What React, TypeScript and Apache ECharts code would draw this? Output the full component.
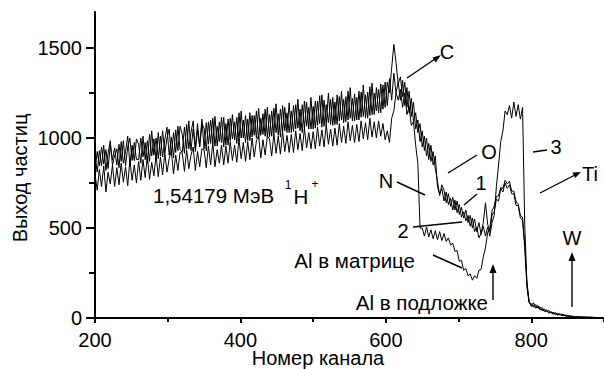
import React, { useEffect, useRef } from "react";
import * as echarts from "echarts";

// Channel numbering of the spectra (every 3rd channel from 200)
const channelStart = 200;
const channelStep = 3;

// Spectrum 1
const curve1 = [
  905, 810, 930, 845, 960, 820, 915, 985, 850, 900,
  940, 835, 980, 860, 925, 1010, 850, 960, 875, 995,
  965, 860, 1010, 880, 985, 870, 1040, 905, 1000, 885,
  1010, 895, 990, 1060, 905, 1005, 890, 1045, 930, 1065,
  1020, 915, 1075, 940, 1030, 1095, 925, 1045, 950, 1080,
  1055, 930, 1090, 970, 1110, 955, 1065, 980, 1115, 950,
  1080, 960, 1110, 995, 1090, 970, 1140, 1000, 1100, 975,
  1105, 985, 1125, 1015, 1150, 995, 1110, 1020, 1160, 1005,
  1130, 1010, 1165, 1030, 1135, 1005, 1180, 1040, 1140, 1030,
  1150, 1035, 1185, 1055, 1160, 1030, 1205, 1065, 1170, 1050,
  1175, 1055, 1205, 1080, 1240, 1065, 1185, 1085, 1215, 1070,
  1200, 1075, 1230, 1100, 1215, 1090, 1260, 1110, 1220, 1095,
  1225, 1100, 1255, 1120, 1240, 1110, 1285, 1130, 1250, 1150,
  1270, 1140, 1295, 1170, 1310, 1250, 1390, 1520, 1420, 1300,
  1340, 1230, 1310, 1170, 1260, 1120, 1200, 1050, 1100, 980,
  1040, 930, 1000, 880, 960, 850, 900, 730, 690, 720,
  650, 700, 630, 665, 600, 655, 585, 630, 560, 590,
  540, 570, 510, 555, 480, 505, 445, 470, 530, 640,
  520, 480, 570, 590, 660, 650, 720, 700, 750, 720,
  740, 690, 690, 625, 625, 555, 545, 390, 170, 85,
  80, 60, 75, 55, 62, 40, 50, 35, 42, 28,
  32, 20, 26, 18, 22, 12, 16, 10, 12, 7,
  8, 5, 7, 4, 6, 3, 5, 3, 4, 3,
];

// Spectrum 2
const curve2 = [
  800, 710, 825, 730, 845, 700, 810, 745, 850, 730,
  835, 740, 860, 755, 840, 735, 880, 765, 850, 750,
  870, 765, 880, 780, 900, 770, 865, 790, 905, 785,
  895, 795, 915, 810, 885, 930, 800, 905, 820, 920,
  915, 815, 935, 830, 905, 950, 820, 925, 840, 940,
  935, 835, 955, 850, 975, 840, 935, 860, 960, 850,
  955, 860, 980, 875, 960, 865, 995, 885, 975, 870,
  980, 880, 1000, 895, 985, 1015, 890, 990, 905, 1010,
  995, 900, 1025, 915, 1010, 910, 1035, 925, 1015, 920,
  1020, 920, 1040, 935, 1025, 930, 1055, 945, 1030, 940,
  1035, 940, 1060, 955, 1045, 950, 1075, 965, 1050, 955,
  1055, 960, 1080, 975, 1065, 970, 1090, 985, 1070, 975,
  1075, 980, 1095, 995, 1085, 990, 1110, 1005, 1090, 1000,
  1095, 1010, 1080, 990, 1040, 975, 1110, 1150, 1250, 1210,
  1270, 1170, 1250, 1130, 1175, 1070, 1090, 960, 860, 500,
  500, 455, 505, 450, 490, 440, 485, 435, 480, 430,
  470, 425, 445, 405, 415, 370, 375, 315, 320, 265,
  275, 235, 245, 210, 235, 220, 265, 270, 340, 390,
  475, 500, 595, 620, 675, 680, 725, 720, 765, 745,
  760, 705, 705, 645, 635, 570, 560, 410, 200, 90,
  65, 72, 55, 62, 45, 50, 36, 40, 28, 31,
  22, 25, 17, 20, 13, 15, 10, 11, 8, 9,
  5, 7, 4, 6, 4, 5, 3, 4, 3, 3,
];

// Spectrum 3
const curve3 = [
  820, 925, 845, 950, 855, 935, 830, 960, 880, 945,
  850, 965, 870, 985, 845, 950, 1000, 875, 975, 880,
  880, 1000, 895, 975, 860, 1020, 900, 995, 880, 1030,
  900, 1040, 915, 1000, 1050, 905, 1030, 920, 1065, 935,
  920, 1060, 940, 1095, 930, 1050, 945, 1080, 955, 1105,
  940, 1085, 965, 1100, 970, 1120, 955, 1090, 975, 1115,
  960, 1105, 985, 1130, 990, 1115, 985, 1150, 1000, 1125,
  985, 1140, 1005, 1125, 1000, 1165, 1015, 1135, 1010, 1170,
  1005, 1150, 1025, 1190, 1015, 1160, 1035, 1170, 1030, 1195,
  1030, 1180, 1050, 1215, 1040, 1185, 1055, 1200, 1050, 1225,
  1050, 1205, 1070, 1235, 1060, 1210, 1075, 1250, 1075, 1225,
  1075, 1240, 1095, 1260, 1085, 1230, 1100, 1280, 1095, 1245,
  1100, 1260, 1115, 1295, 1110, 1255, 1125, 1305, 1130, 1280,
  1140, 1300, 1160, 1310, 1180, 1330, 1210, 1360, 1250, 1310,
  1210, 1320, 1180, 1280, 1140, 1220, 1090, 1140, 1030, 1080,
  950, 1010, 900, 970, 870, 925, 830, 760, 680, 740,
  710, 640, 690, 620, 670, 600, 650, 575, 615, 555,
  600, 530, 570, 500, 550, 480, 530, 465, 510, 455,
  505, 455, 530, 570, 730, 850, 980, 1040, 1150, 1130,
  1180, 1110, 1200, 1120, 1185, 1105, 1170, 520, 190, 90,
  70, 85, 58, 70, 48, 58, 38, 46, 30, 36,
  24, 30, 18, 24, 15, 19, 11, 14, 8, 10,
  6, 9, 5, 7, 4, 6, 3, 5, 3, 4,
];

const xMin = 200;
const xMax = 900;
const xMajorStep = 200;
const xMinorStep = 100;
const yMin = 0;
const yMax = 1700;
const yMajorStep = 500;
const yMinorStep = 250;

const FONT = '"Liberation Sans", Arial, sans-serif';

const toPairs = (vals: number[]) =>
  vals.map((v, i) => [channelStart + i * channelStep, v]);

const txt = (text: string, x: number, y: number, size = 20, align = "center") => ({
  type: "text",
  x,
  y,
  silent: true,
  style: {
    text,
    fill: "#000",
    fontSize: size,
    fontFamily: FONT,
    align,
    textAlign: align,
    verticalAlign: "middle",
    textVerticalAlign: "middle",
  },
});

const seg = (x1: number, y1: number, x2: number, y2: number) => ({
  type: "line",
  silent: true,
  shape: { x1, y1, x2, y2 },
  style: { stroke: "#000", lineWidth: 1.4 },
});

const head = (pts: number[][]) => ({
  type: "polygon",
  silent: true,
  shape: { points: pts },
  style: { fill: "#000" },
});

export default function App() {
  const ref = useRef<HTMLDivElement>(null);

  useEffect(() => {
    if (!ref.current) return;
    const chart = echarts.init(ref.current, undefined, { renderer: "svg" });

    const axisLabelStyle = {
      color: "#000",
      fontSize: 20,
      fontFamily: FONT,
      formatter: (v: number) => String(v),
    };
    const tickLine = { color: "#000", width: 2 };

    const lineSeries = (name: string, vals: number[]) => ({
      name,
      type: "line",
      data: toPairs(vals),
      showSymbol: false,
      symbol: "none",
      silent: true,
      lineStyle: { color: "#000", width: 1 },
      xAxisIndex: 0,
      yAxisIndex: 0,
    });

    chart.setOption({
      animation: false,
      backgroundColor: "#fff",
      grid: { left: 95, top: 12, width: 519, height: 306 },
      xAxis: [
        {
          type: "value",
          min: xMin,
          max: xMax,
          interval: xMajorStep,
          position: "bottom",
          axisLine: { onZero: false, lineStyle: { color: "#000", width: 2 } },
          axisTick: { show: true, length: 5, lineStyle: tickLine },
          axisLabel: { ...axisLabelStyle, margin: 12, showMaxLabel: false },
          splitLine: { show: false },
        },
        {
          type: "value",
          min: xMin,
          max: xMax,
          interval: xMinorStep,
          position: "bottom",
          axisLine: { show: false, onZero: false },
          axisTick: { show: true, length: 4, lineStyle: tickLine },
          axisLabel: { show: false },
          splitLine: { show: false },
        },
      ],
      yAxis: [
        {
          type: "value",
          min: yMin,
          max: yMax,
          interval: yMajorStep,
          position: "left",
          axisLine: { show: true, onZero: false, lineStyle: { color: "#000", width: 2 } },
          axisTick: { show: true, length: 9, lineStyle: tickLine },
          axisLabel: { ...axisLabelStyle, margin: 13, showMaxLabel: false },
          splitLine: { show: false },
        },
        {
          type: "value",
          min: yMin,
          max: yMax,
          interval: yMinorStep,
          position: "left",
          axisLine: { show: false, onZero: false },
          axisTick: { show: true, length: 6, lineStyle: tickLine },
          axisLabel: { show: false },
          splitLine: { show: false },
        },
      ],
      series: [
        lineSeries("1", curve1),
        lineSeries("2", curve2),
        lineSeries("3", curve3),
      ],
      graphic: [
        // masks the automatic end-of-axis tick at the top of the y axis
        {
          type: "rect",
          silent: true,
          z: 100,
          shape: { x: 80, y: 6, width: 14, height: 10 },
          style: { fill: "#fff" },
        },
        {
          type: "text",
          x: 20,
          y: 178,
          rotation: Math.PI / 2,
          silent: true,
          style: {
            text: "Выход частиц",
            fill: "#000",
            fontSize: 20,
            fontFamily: FONT,
            align: "center",
            textAlign: "center",
            verticalAlign: "middle",
            textVerticalAlign: "middle",
          },
        },
        txt("Номер канала", 318, 358, 20),
        txt("1,54179 МэВ", 153, 195, 20.5, "left"),
        txt("1", 288, 185, 12),
        txt("H", 301, 196, 20.5),
        txt("+", 315, 184, 12),
        txt("C", 447, 52),
        txt("O", 489, 152),
        txt("N", 386, 181),
        txt("1", 481, 183),
        txt("3", 556, 147),
        txt("Ti", 590, 174),
        txt("2", 403, 231),
        txt("Al в матрице", 415, 260, 20.5, "right"),
        txt("Al в подложке", 488, 302, 20.5, "right"),
        txt("W", 572, 238),
        seg(407, 78, 435, 59),
        head([[441, 55], [432.6, 57.4], [435.8, 62.4]]),
        seg(448, 173, 477, 155),
        seg(397, 182, 425, 195),
        seg(477, 194, 464, 205),
        seg(533, 152, 547, 150),
        seg(540, 193, 575, 175),
        head([[581, 172], [572.4, 172.6], [575.2, 177.9]]),
        seg(413, 227, 462, 222),
        seg(433, 255, 462, 268),
        seg(493, 300, 493, 270),
        head([[493, 264], [489.5, 273], [496.5, 273]]),
        seg(572, 307, 572, 258),
        head([[572, 252], [568.5, 261], [575.5, 261]]),
      ],
    });

    return () => chart.dispose();
  }, []);

  return (
    <div
      ref={ref}
      style={{ position: "fixed", left: 0, top: 0, width: 604, height: 369, background: "#fff" }}
    />
  );
}
